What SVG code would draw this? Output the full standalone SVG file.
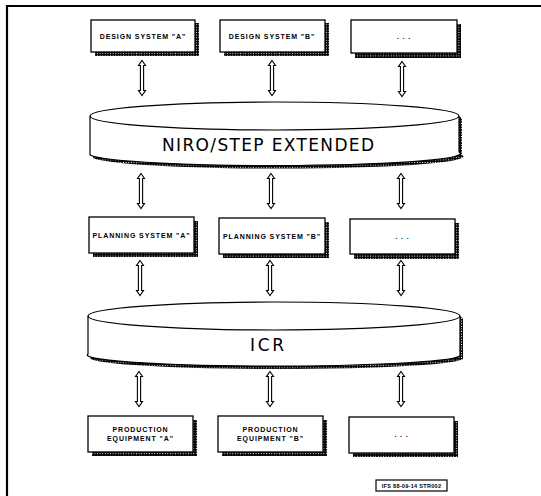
<svg xmlns="http://www.w3.org/2000/svg" width="541" height="496" viewBox="0 0 541 496">
<style>
.box{fill:#fff;stroke:#000;stroke-width:1.3}
.sh{fill:url(#dots)}
.lbl{font-family:"Liberation Sans",Arial,sans-serif;font-weight:bold;font-size:7px;letter-spacing:0.9px;text-anchor:middle;fill:#000}
.big{font-family:"DejaVu Sans","Liberation Sans",sans-serif;font-weight:normal;font-size:17px;text-anchor:middle;fill:#000}
.disc{fill:#fff;stroke:#000;stroke-width:1.2}
.arr{fill:#fff;stroke:#000;stroke-width:1.1}
</style>
<defs>
<pattern id="dots" width="2.6" height="2.6" patternUnits="userSpaceOnUse">
<rect width="2.6" height="2.6" fill="#000"/>
<rect x="0.8" y="0.8" width="1" height="1" fill="#fff"/>
</pattern>
<path id="arrow" d="M0,-17.5 L3.5,-12.5 L1.6,-12.5 L1.6,12.5 L3.5,12.5 L0,17.5 L-3.5,12.5 L-1.6,12.5 L-1.6,-12.5 L-3.5,-12.5 Z"/>
</defs>
<rect width="541" height="496" fill="#fff"/>
<g id="frame">
<path d="M7,496 L7,6 L541,6" fill="none" stroke="#000" stroke-width="2.2"/>
</g>
<g id="connectors">
<use href="#arrow" class="arr" transform="translate(142,78)"/>
<use href="#arrow" class="arr" transform="translate(272,78)"/>
<use href="#arrow" class="arr" transform="translate(402,79)"/>
<use href="#arrow" class="arr" transform="translate(141,191)"/>
<use href="#arrow" class="arr" transform="translate(271,191)"/>
<use href="#arrow" class="arr" transform="translate(401,191)"/>
<use href="#arrow" class="arr" transform="translate(140,278)"/>
<use href="#arrow" class="arr" transform="translate(270,278)"/>
<use href="#arrow" class="arr" transform="translate(401,278)"/>
<use href="#arrow" class="arr" transform="translate(139,389)"/>
<use href="#arrow" class="arr" transform="translate(270,389)"/>
<use href="#arrow" class="arr" transform="translate(401,389)"/>
</g>
<g id="design-a">
<rect class="sh" x="95" y="23" width="104" height="33"/>
<rect class="box" x="91" y="20" width="104" height="32"/>
<text class="lbl" x="143" y="38.5">DESIGN SYSTEM "A"</text>
</g>
<g id="design-b">
<rect class="sh" x="224" y="23" width="105" height="33"/>
<rect class="box" x="220" y="20" width="105" height="32"/>
<text class="lbl" x="272" y="38.5">DESIGN SYSTEM "B"</text>
</g>
<g id="design-more">
<rect class="sh" x="355" y="24" width="106" height="34"/>
<rect class="box" x="351" y="20" width="106" height="33"/>
<text class="lbl" x="404" y="38.5">. . .</text>
</g>
<g id="niro-step">
<path class="sh" d="M93,119 A184.5,14 0 0 1 462,119 L462,155 A184.5,12 0 0 1 93,158 Z"/>
<path class="disc" d="M90,116 A184.5,14 0 0 1 459,116 L459,152 A184.5,12 0 0 1 90,155 Z"/>
<path d="M90,116 A184.5,14 0 0 0 459,116" fill="none" stroke="#000" stroke-width="1.2"/>
<text class="big" x="268" y="151" textLength="212" lengthAdjust="spacing">NIRO/STEP EXTENDED</text>
</g>
<g id="planning-a">
<rect class="sh" x="93" y="221" width="105" height="36"/>
<rect class="box" x="89" y="217" width="105" height="36"/>
<text class="lbl" x="141.5" y="237.5">PLANNING SYSTEM "A"</text>
</g>
<g id="planning-b">
<rect class="sh" x="223" y="222" width="106" height="36"/>
<rect class="box" x="219" y="218" width="106" height="36"/>
<text class="lbl" x="272" y="238.5">PLANNING SYSTEM "B"</text>
</g>
<g id="planning-more">
<rect class="sh" x="354" y="223" width="105" height="36"/>
<rect class="box" x="350" y="219" width="105" height="35"/>
<text class="lbl" x="402.5" y="239">. . .</text>
</g>
<g id="icr">
<path class="sh" d="M91,319 A186,14 0 0 1 463,319 L463,359 A186,11 0 0 1 91,357 Z"/>
<path class="disc" d="M88,316 A186,14 0 0 1 460,316 L460,356 A186,11 0 0 1 88,354 Z"/>
<path d="M88,316 A186,14 0 0 0 460,316" fill="none" stroke="#000" stroke-width="1.2"/>
<text class="big" x="267" y="351" textLength="34" lengthAdjust="spacing">ICR</text>
</g>
<g id="production-a">
<rect class="sh" x="92" y="420" width="105" height="36"/>
<rect class="box" x="88" y="416" width="105" height="36"/>
<text class="lbl" x="140.5" y="431.5">PRODUCTION</text>
<text class="lbl" x="140.5" y="441">EQUIPMENT "A"</text>
</g>
<g id="production-b">
<rect class="sh" x="222" y="420" width="105" height="36"/>
<rect class="box" x="218" y="416" width="105" height="36"/>
<text class="lbl" x="270.5" y="431.5">PRODUCTION</text>
<text class="lbl" x="270.5" y="441">EQUIPMENT "B"</text>
</g>
<g id="production-more">
<rect class="sh" x="353" y="421" width="105" height="36"/>
<rect class="box" x="349" y="417" width="105" height="36"/>
<text class="lbl" x="401.5" y="437">. . .</text>
</g>
<g id="stamp">
<rect x="376" y="480" width="71" height="11" fill="#fff" stroke="#000" stroke-width="1.2"/>
<text x="411.5" y="488" font-family="Liberation Sans,Arial,sans-serif" font-weight="bold" font-size="5.5px" text-anchor="middle" letter-spacing="0.3">IFS 88-09-14   STR002</text>
</g>
</svg>
